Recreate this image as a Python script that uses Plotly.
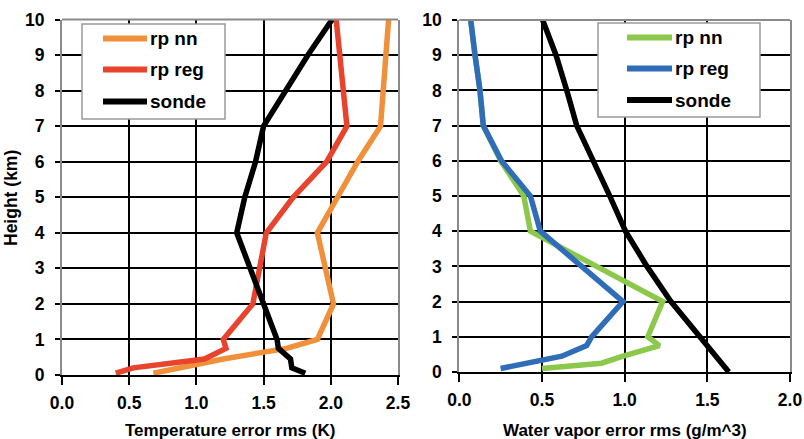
import plotly.graph_objects as go

# ---------------- data ----------------
# Left panel: temperature error rms (K) vs height (km)
temp_height = [0.05, 0.2, 0.45, 0.75, 1, 2, 3, 4, 5, 6, 7, 8, 9, 10]
temp_rp_nn = [0.68, 0.88, 1.20, 1.67, 1.90, 2.02, 1.96, 1.90, 2.05, 2.20, 2.37, 2.39, 2.41, 2.43]
temp_rp_reg = [0.40, 0.53, 1.06, 1.22, 1.20, 1.42, 1.47, 1.52, 1.72, 1.97, 2.12, 2.09, 2.07, 2.04]
temp_sonde = [1.81, 1.71, 1.70, 1.61, 1.60, 1.50, 1.40, 1.30, 1.36, 1.44, 1.50, 1.66, 1.83, 2.01]

# Right panel: water vapor error rms (g/m^3) vs height (km)
wv_height = [0.1, 0.25, 0.45, 0.75, 1, 2, 3, 4, 5, 6, 7, 8, 9, 10]
wv_rp_nn = [0.50, 0.86, 0.99, 1.21, 1.14, 1.23, 0.83, 0.43, 0.39, 0.25, 0.145, 0.125, 0.095, 0.069]
wv_rp_reg = [0.25, 0.42, 0.62, 0.77, 0.80, 0.99, 0.74, 0.49, 0.43, 0.255, 0.145, 0.125, 0.095, 0.069]
wv_sonde_height = [0, 1, 2, 3, 4, 5, 6, 7, 8, 9, 10]
wv_sonde = [1.63, 1.46, 1.28, 1.135, 1.005, 0.91, 0.81, 0.71, 0.65, 0.585, 0.504]

series_names = ["rp nn", "rp reg", "sonde"]
left_colors = ["#F0903A", "#E8432D", "#000000"]
right_colors = ["#8CC84B", "#2F6DB8", "#000000"]

height_ticks = list(range(0, 11))
temp_ticks = [0.0, 0.5, 1.0, 1.5, 2.0, 2.5]
wv_ticks = [0.0, 0.5, 1.0, 1.5, 2.0]

W, H = 804, 439
FONT = "Liberation Sans, Arial, sans-serif"


def px(x):
    return x / W


def py(y):
    return 1 - y / H


fig = go.Figure()

left_series = [temp_rp_nn, temp_rp_reg, temp_sonde]
for name, vals, col in zip(series_names, left_series, left_colors):
    fig.add_trace(go.Scatter(x=vals, y=temp_height, mode="lines", name=name,
                             line=dict(color=col, width=5.5), xaxis="x", yaxis="y",
                             showlegend=False))

right_series = [(wv_rp_nn, wv_height), (wv_rp_reg, wv_height), (wv_sonde, wv_sonde_height)]
for name, (vals, hts), col in zip(series_names, right_series, right_colors):
    fig.add_trace(go.Scatter(x=vals, y=hts, mode="lines", name=name,
                             line=dict(color=col, width=5.5), xaxis="x2", yaxis="y2",
                             showlegend=False))

tickfont = dict(family=FONT, size=17.5, color="#000", weight="bold")
common_x = dict(showgrid=True, gridcolor="black", gridwidth=2, zeroline=False,
                showline=True, linecolor="black", linewidth=2, mirror=False,
                ticks="outside", ticklen=8, tickwidth=2, tickcolor="black",
                tickfont=tickfont, automargin=False, fixedrange=True,
                ticklabelstandoff=3)
common_y = dict(showgrid=True, gridcolor="black", gridwidth=2, zeroline=False,
                showline=True, linecolor="#8a8a8a", linewidth=2, mirror=True,
                ticks="outside", ticklen=5, tickwidth=2, tickcolor="black",
                tickfont=tickfont, automargin=False, fixedrange=True,
                range=[0, 10], tickvals=height_ticks, ticklabelstandoff=7)

L = dict(x0=62, x1=398, top=19.5, bot=375)
R = dict(x0=459.3, x1=790, top=20, bot=372)

fig.update_layout(
    width=W, height=H,
    margin=dict(l=0, r=0, t=0, b=0),
    paper_bgcolor="white", plot_bgcolor="white",
    showlegend=False,
    xaxis=dict(**common_x, domain=[px(L["x0"]), px(L["x1"])], range=[0, 2.5],
               tickvals=temp_ticks, ticktext=[f"{v:.1f}" for v in temp_ticks], anchor="y"),
    yaxis=dict(**common_y, domain=[py(L["bot"]), py(L["top"])], anchor="x"),
    xaxis2=dict(**common_x, domain=[px(R["x0"]), px(R["x1"])], range=[0, 2.0],
                tickvals=wv_ticks, ticktext=[f"{v:.1f}" for v in wv_ticks], anchor="y2"),
    yaxis2=dict(**common_y, domain=[py(R["bot"]), py(R["top"])], anchor="x2"),
)

shapes = []
annotations = []

# gray top borders of plot areas
for P in (L, R):
    shapes.append(dict(type="line", xref="paper", yref="paper",
                       x0=px(P["x0"]), x1=px(P["x1"]), y0=py(P["top"]), y1=py(P["top"]),
                       line=dict(color="#8a8a8a", width=2), layer="above"))


def add_legend(box, line_x0, line_x1, ys, colors):
    shapes.append(dict(type="rect", xref="paper", yref="paper",
                       x0=px(box[0]), x1=px(box[1]), y0=py(box[3]), y1=py(box[2]),
                       line=dict(color="#9a9a9a", width=1.5), fillcolor="white", layer="above"))
    for yy, col, name in zip(ys, colors, series_names):
        shapes.append(dict(type="line", xref="paper", yref="paper",
                           x0=px(line_x0), x1=px(line_x1), y0=py(yy), y1=py(yy),
                           line=dict(color=col, width=6), layer="above"))
        annotations.append(dict(xref="paper", yref="paper", x=px(line_x1 + 1), y=py(yy),
                                xanchor="left", yanchor="middle", showarrow=False,
                                text=name, font=dict(family=FONT, size=19, color="#000",
                                                     weight="bold")))


add_legend((82, 225, 24, 119), 103, 147, [38.5, 69.5, 101.5], left_colors)
add_legend((598, 760, 23, 117), 627, 672, [37.5, 68.5, 100], right_colors)

# axis titles
title_font = dict(family=FONT, size=17, color="#000", weight="bold")
annotations.append(dict(xref="paper", yref="paper", x=px((L["x0"] + L["x1"]) / 2), y=py(430),
                        xanchor="center", yanchor="middle", showarrow=False,
                        text="Temperature error rms (K)", font=title_font))
annotations.append(dict(xref="paper", yref="paper", x=px((R["x0"] + R["x1"]) / 2), y=py(430),
                        xanchor="center", yanchor="middle", showarrow=False,
                        text="Water vapor error rms (g/m^3)", font=title_font))
annotations.append(dict(xref="paper", yref="paper", x=px(11), y=py(198),
                        xanchor="center", yanchor="middle", showarrow=False, textangle=-90,
                        text="Height (km)", font=dict(family=FONT, size=17.5, color="#000",
                                                      weight="bold")))

fig.update_layout(shapes=shapes, annotations=annotations)

fig.write_html("out.html")
